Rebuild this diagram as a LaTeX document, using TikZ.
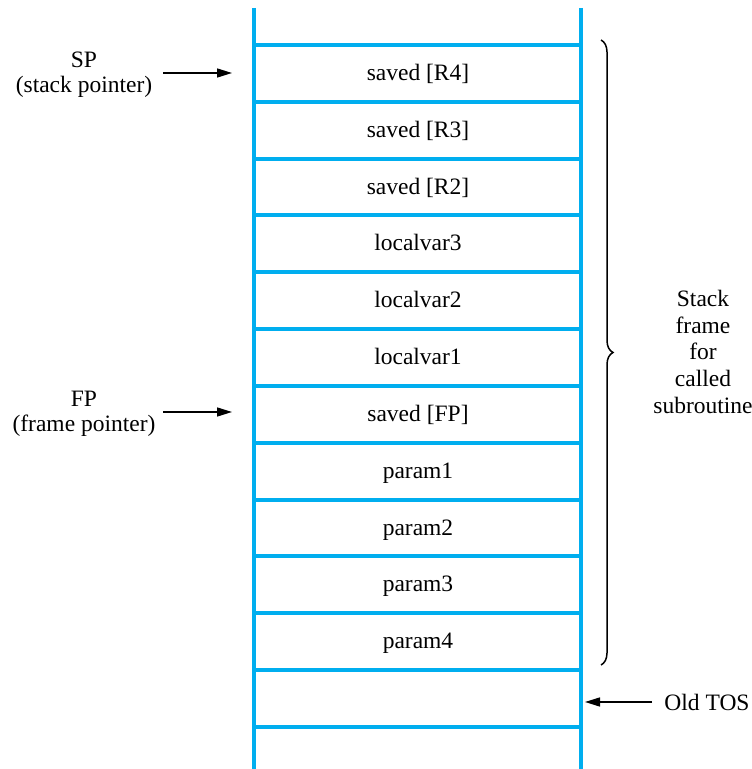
\documentclass[tikz,border=0pt]{standalone}
\usepackage{fontspec}
\setmainfont{Liberation Serif}
\usetikzlibrary{decorations.pathreplacing,arrows.meta}
\definecolor{stackblue}{RGB}{0,174,239}
\begin{document}
\begin{tikzpicture}[x=1pt,y=1pt,
  wall/.style={stackblue,line width=4pt},
  lbl/.style={font=\fontsize{23.5}{26.6}\selectfont, inner sep=0pt},
  ptr/.style={line width=1.5pt,-{Triangle[length=15pt,width=9pt]}},
  bracestyle/.style={line width=1.5pt,decorate,decoration={brace,amplitude=12pt,aspect=0.5}}]
\useasboundingbox (0,0) rectangle (752,769);
% stack walls
\draw[wall] (254,761) -- (254,0);
\draw[wall] (581,761) -- (581,0);
\foreach \i in {0,...,12}
  \draw[wall] (254,724-56.833*\i) -- (581,724-56.833*\i);
% row labels
\foreach \t [count=\i from 0] in {{saved [R4]},{saved [R3]},{saved [R2]},{localvar3},{localvar2},{localvar1},{saved [FP]},{param1},{param2},{param3},{param4}}
  \node[lbl,anchor=base] (row\i) at (418,688.58-56.833*\i) {\t};
% SP
\node[lbl,anchor=base] (sp) at (84,701) {SP};
\node[lbl,anchor=base] (spdesc) at (84,676) {(stack pointer)};
\coordinate (spA) at (163,696);
\coordinate (spB) at (232,696);
\draw[ptr] (spA) -- (spB);
% FP
\node[lbl,anchor=base] (fp) at (84,362) {FP};
\node[lbl,anchor=base] (fpdesc) at (84,337) {(frame pointer)};
\coordinate (fpA) at (163,357);
\coordinate (fpB) at (232,357);
\draw[ptr] (fpA) -- (fpB);
% Old TOS
\node[lbl,anchor=base] (tos) at (707,58) {Old TOS};
\coordinate (tosA) at (652,67);
\coordinate (tosB) at (585,67);
\draw[ptr] (tosA) -- (tosB);
% brace
\coordinate (brTop) at (601,729);
\coordinate (brBot) at (601,104);
\draw[bracestyle] (brTop) -- (brBot);
\node[lbl,align=center] (frame) at (703,417.1) {Stack\\frame\\for\\called\\subroutine};
\end{tikzpicture}
\end{document}
